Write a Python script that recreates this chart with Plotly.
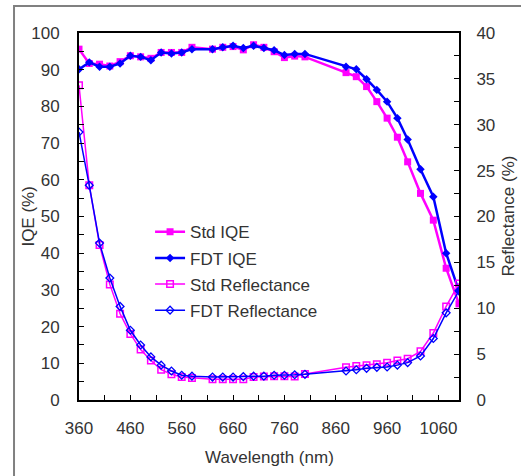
import plotly.graph_objects as go

wavelength = [360, 380, 400, 420, 440, 460, 480, 500, 520, 540, 560, 580, 620, 640, 660, 680,
              700, 720, 740, 760, 780, 800, 880, 900, 920, 940, 960, 980, 1000, 1025, 1050, 1075, 1100]

std_iqe = [95.6, 91.7, 91.5, 91.0, 92.2, 93.8, 93.5, 93.1, 94.7, 94.7, 94.7, 96.1, 95.6, 96.1, 96.3, 95.4,
           96.8, 96.1, 94.9, 93.3, 93.7, 93.5, 89.2, 88.1, 85.4, 81.3, 76.8, 71.6, 64.9, 56.3, 49.0, 35.9, 26.2]

fdt_iqe = [90.1, 92.0, 90.8, 90.8, 91.7, 93.8, 93.5, 92.6, 94.7, 94.4, 94.7, 95.6, 95.6, 96.1, 96.5, 95.9,
           96.5, 95.9, 95.3, 94.0, 94.3, 94.3, 90.8, 90.1, 87.4, 84.5, 81.3, 76.8, 71.0, 62.9, 55.4, 40.0, 29.6]

std_refl = [34.3, 23.4, 16.9, 12.6, 9.4, 7.2, 5.5, 4.3, 3.3, 2.8, 2.5, 2.4, 2.25, 2.25, 2.25, 2.25,
            2.5, 2.55, 2.6, 2.6, 2.55, 2.83, 3.56, 3.7, 3.8, 3.9, 4.07, 4.3, 4.5, 5.3, 7.3, 10.2, 12.7]

fdt_refl = [29.2, 23.4, 17.1, 13.3, 10.2, 7.6, 6.0, 4.7, 3.8, 3.16, 2.7, 2.6, 2.5, 2.5, 2.5, 2.55,
            2.6, 2.6, 2.7, 2.7, 2.75, 2.8, 3.16, 3.3, 3.45, 3.56, 3.6, 3.8, 4.07, 4.8, 6.7, 9.5, 11.9]

MAG = "#FF00FF"
BLUE = "#0000FF"
FONT = "Liberation Sans, Arial, sans-serif"
TXT = "#333333"

fig = go.Figure()
fig.add_trace(go.Scatter(x=wavelength, y=std_iqe, name="Std IQE", mode="lines+markers",
                         line=dict(color=MAG, width=2.5),
                         marker=dict(symbol="square", size=7, color=MAG),
                         legendgroup="a"))
fig.add_trace(go.Scatter(x=wavelength, y=fdt_iqe, name="FDT IQE", mode="lines+markers",
                         line=dict(color=BLUE, width=2.5),
                         marker=dict(symbol="diamond", size=6.5, color=BLUE),
                         legendgroup="b"))
fig.add_trace(go.Scatter(x=wavelength, y=std_refl, name="Std Reflectance", mode="lines+markers",
                         line=dict(color=MAG, width=1.5),
                         marker=dict(symbol="square-open", size=6.5, color=MAG, line=dict(width=1.5)),
                         yaxis="y2", legendgroup="c"))
fig.add_trace(go.Scatter(x=wavelength, y=fdt_refl, name="FDT Reflectance", mode="lines+markers",
                         line=dict(color=BLUE, width=1.5),
                         marker=dict(symbol="diamond-open", size=6, color=BLUE, line=dict(width=1.3)),
                         yaxis="y2", legendgroup="d"))

axis_common = dict(showline=True, linecolor="black", linewidth=2, ticks="inside", ticklen=5,
                   tickwidth=1, tickcolor="black", showgrid=False, zeroline=False, automargin=False,
                   tickfont=dict(family=FONT, size=17, color=TXT))

title_font = dict(family=FONT, size=17, color=TXT)

fig.update_layout(
    width=521, height=476,
    margin=dict(l=79, r=62, t=33, b=76),
    paper_bgcolor="white", plot_bgcolor="white",
    font=dict(family=FONT, size=17, color=TXT),
    xaxis=dict(range=[360, 1100], tick0=360, dtick=100, mirror=True,
               minor=dict(dtick=50, tick0=360, ticks="inside", ticklen=5, tickcolor="black"),
               ticklabelstandoff=12, **axis_common),
    yaxis=dict(range=[0, 100], dtick=10,
               minor=dict(dtick=5, ticks="inside", ticklen=5, tickcolor="black"),
               ticklabelstandoff=14, **axis_common),
    yaxis2=dict(range=[0, 40], dtick=5, overlaying="y", side="right",
                minor=dict(dtick=2.5, ticks="inside", ticklen=5, tickcolor="black"),
                ticklabelstandoff=12, **axis_common),
    legend=dict(x=0.187, y=0.506, xanchor="left", yanchor="top", bgcolor="rgba(0,0,0,0)",
                font=dict(family=FONT, size=17, color=TXT), tracegroupgap=1, itemwidth=30),
    showlegend=True,
    annotations=[
        dict(text="IQE (%)", xref="paper", yref="paper", x=-0.134, y=0.5,
             xanchor="center", yanchor="middle", textangle=-90, showarrow=False, font=title_font),
        dict(text="Reflectance (%)", xref="paper", yref="paper", x=1.129, y=0.5,
             xanchor="center", yanchor="middle", textangle=-90, showarrow=False, font=title_font),
        dict(text="Wavelength (nm)", xref="paper", yref="paper", x=0.5, y=-0.158,
             xanchor="center", yanchor="middle", showarrow=False, font=title_font),
    ],
    shapes=[dict(type="rect", xref="paper", yref="paper", x0=-0.171, x1=2, y0=-2, y1=1.0736,
                 line=dict(color="#808080", width=2), fillcolor="rgba(0,0,0,0)", layer="below")],
)

fig.write_html("out.html")
